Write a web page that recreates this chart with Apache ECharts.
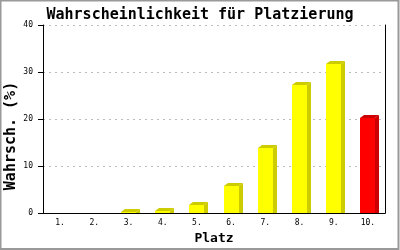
<!DOCTYPE html>
<html><head><meta charset="utf-8">
<script src="https://cdn.jsdelivr.net/npm/echarts@6/dist/echarts.min.js"></script>
<style>html,body{margin:0;padding:0;background:#fff}#c{width:400px;height:250px}</style>
</head><body><div id="c"></div>
<script>
const categories = ['1.', '2.', '3.', '4.', '5.', '6.', '7.', '8.', '9.', '10.'];
const values = [0, 0, 0.2, 0.5, 1.7, 5.8, 13.8, 27.2, 31.8, 20.2];
const yMin = 0, yMax = 40, yStep = 10;
const highlightIndex = 9;
const titleText = 'Wahrscheinlichkeit für Platzierung';
const xName = 'Platz';
const yName = 'Wahrsch. (%)';

const MONO = '"DejaVu Sans Mono", "Liberation Mono", monospace';

function renderItem(params, api) {
  const i = api.value(0), v = api.value(1);
  if (!(v > 0)) return null;
  const top = api.coord([i, v]);
  const base = api.coord([i, 0]);
  const band = api.size([1, 0])[0];
  const w = Math.round(band * 0.44);
  const x0 = Math.round(top[0] - w / 2);
  const x1 = x0 + w;
  const yT = Math.round(top[1]);
  const yB = Math.round(base[1]);
  const dx = 4, dy = 3;
  const red = i === highlightIndex;
  const front = red ? '#ff0000' : '#ffff00';
  const dark = red ? '#cc0000' : '#cccc00';
  return {
    type: 'group',
    children: [
      { type: 'polygon', shape: { points: [[x1, yT], [x1 + dx, yT - dy], [x1 + dx, yB], [x1, yB]] }, style: { fill: dark } },
      { type: 'polygon', shape: { points: [[x0, yT], [x0 + dx, yT - dy], [x1 + dx, yT - dy], [x1, yT]] }, style: { fill: dark } },
      { type: 'rect', shape: { x: x0, y: yT, width: w, height: yB - yT }, style: { fill: front } }
    ]
  };
}

const chart = echarts.init(document.getElementById('c'), null, { renderer: 'canvas' });
chart.setOption({
  animation: false,
  backgroundColor: '#ffffff',
  title: {
    text: titleText, left: 'center', top: 3,
    textStyle: { fontFamily: MONO, fontWeight: 'bold', fontSize: 15, color: '#000' }
  },
  grid: { left: 43, top: 25, width: 342, height: 189, containLabel: false },
  xAxis: {
    type: 'category', data: categories, boundaryGap: true,
    name: xName, nameLocation: 'middle', nameGap: 18,
    nameTextStyle: { fontFamily: MONO, fontWeight: 'bold', fontSize: 13, color: '#000' },
    axisLine: { show: true, lineStyle: { color: '#000', width: 1 } },
    axisTick: { show: false },
    axisLabel: { fontFamily: MONO, fontSize: 8, color: '#000', margin: 6 },
    splitLine: { show: false }
  },
  yAxis: [{
    type: 'value', min: yMin, max: yMax, interval: yStep,
    axisLine: { show: true, lineStyle: { color: '#000', width: 1 } },
    axisTick: { show: true, length: 5, lineStyle: { color: '#000' } },
    axisLabel: { fontFamily: MONO, fontSize: 8, color: '#000', margin: 10 },
    splitLine: { show: true, lineStyle: { color: '#bbbbbb', type: [2, 4], width: 1 } }
  }, {
    type: 'value', min: yMin, max: yMax, interval: yStep, position: 'right',
    axisLine: { show: true, lineStyle: { color: '#000', width: 1 } },
    axisTick: { show: false }, axisLabel: { show: false }, splitLine: { show: false }
  }],
  graphic: [
    { type: 'rect', shape: { x: 0.5, y: 0.5, width: 398, height: 248.5 }, style: { fill: null, stroke: '#999999', lineWidth: 2 }, silent: true },
    { type: 'text', x: 11, y: 136, rotation: Math.PI / 2,
      style: { text: yName, font: 'bold 15px ' + MONO, fill: '#000', align: 'center', verticalAlign: 'middle' } }
  ],
  series: [{
    type: 'custom', renderItem: renderItem,
    data: values.map((v, i) => [i, v]),
    encode: { x: 0, y: 1 }, clip: false
  }]
});
</script></body></html>
